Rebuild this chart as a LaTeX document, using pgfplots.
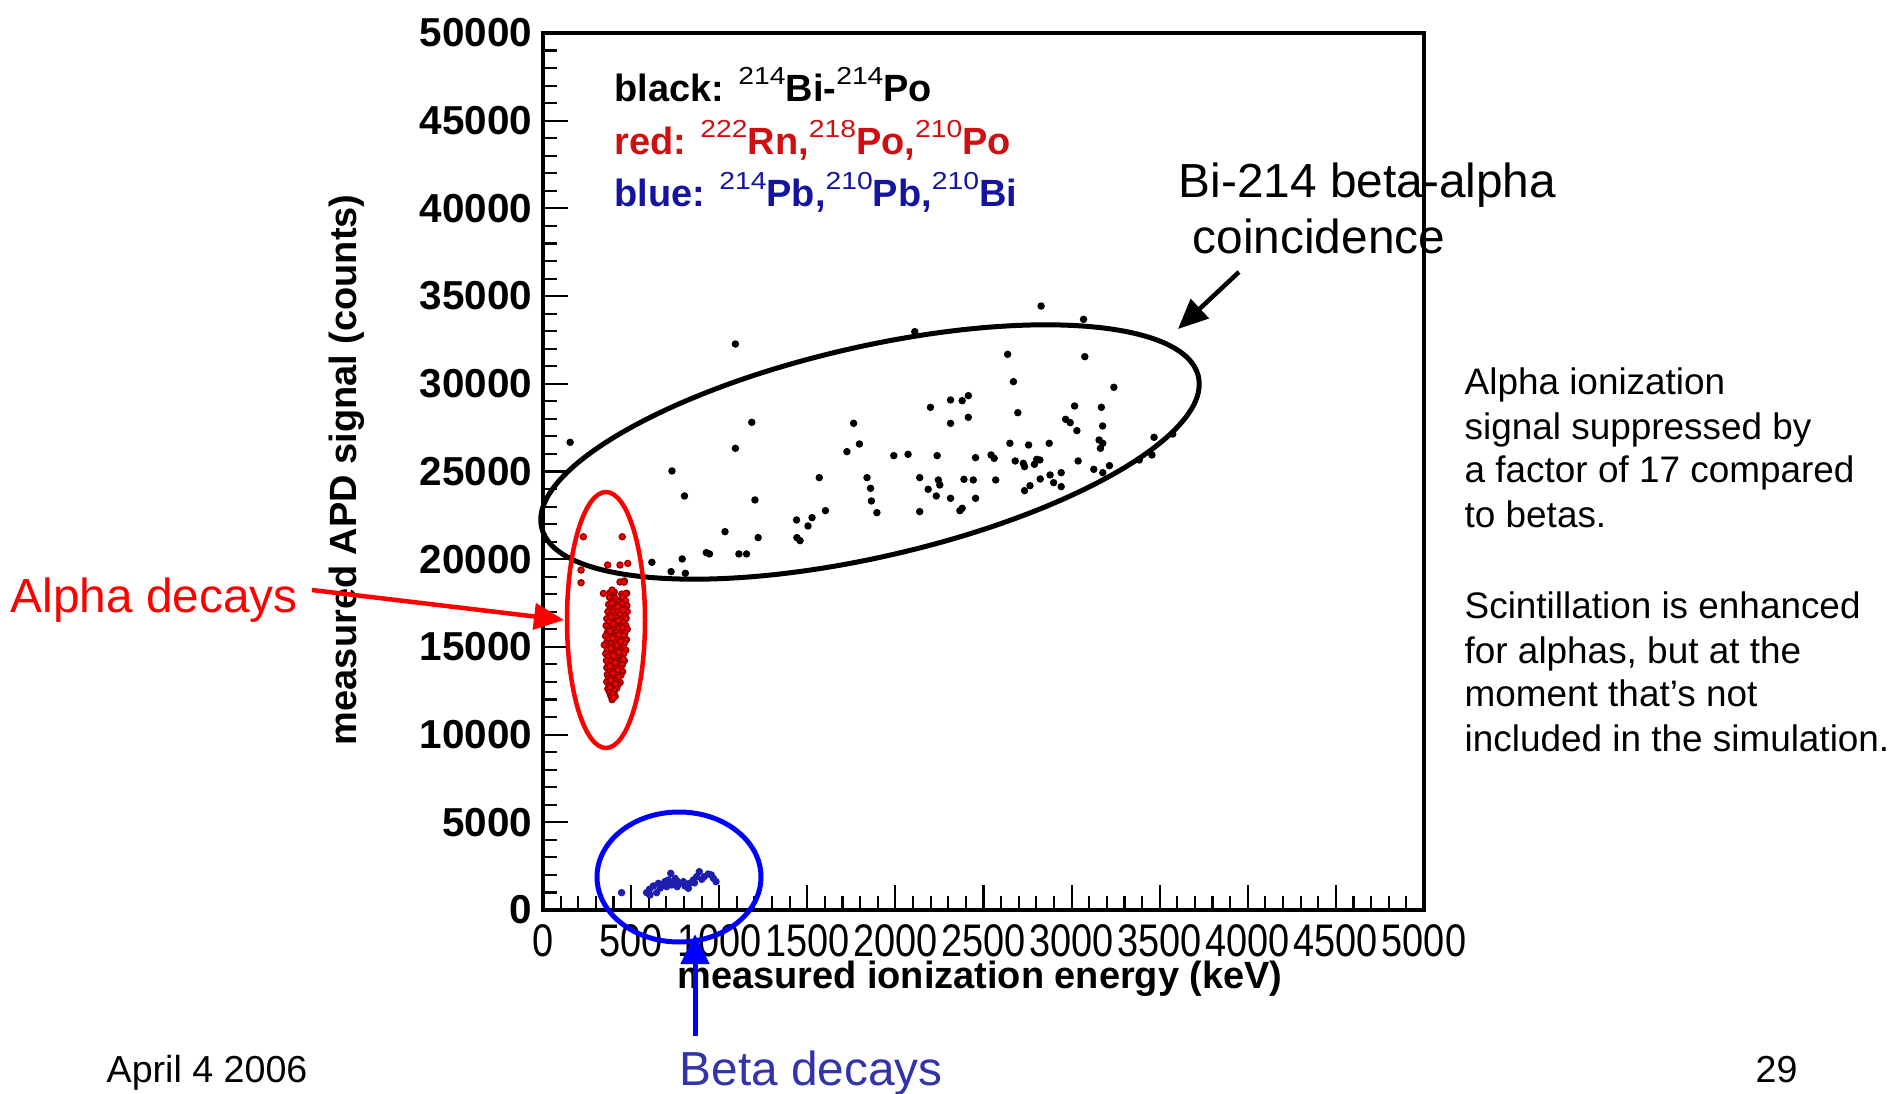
\documentclass[border=0pt]{standalone}
\usepackage{pgfplots}
\pgfplotsset{compat=1.18}
\usepackage{fontspec}
\setmainfont{Liberation Sans}
\newfontfamily\condfont[FakeStretch=0.83]{Liberation Sans}
\newfontfamily\supfont[FakeStretch=1.15]{Liberation Sans}
\usetikzlibrary{arrows.meta}
\definecolor{legred}{RGB}{208,16,16}
\definecolor{legblue}{RGB}{20,20,160}
\definecolor{betablue}{RGB}{51,51,170}
\definecolor{ptblue}{RGB}{30,30,175}
\newcommand\fs[2]{\fontsize{#1}{#2}\selectfont}
\newcommand\sups[1]{\raisebox{5pt}{\supfont\mdseries\fs{7}{7}#1}}
\begin{document}
\begin{tikzpicture}
\path[use as bounding box] (0,0) rectangle (189.5mm,109.3mm);
\begin{axis}[
  at={(54.3mm,18.3mm)}, anchor=south west,
  scale only axis, width=88.1mm, height=87.7mm,
  xmin=0, xmax=5000, ymin=0, ymax=50000,
  scaled ticks=false,
  xtick={0,500,...,5000},
  xticklabels={0,500,1000,1500,2000,2500,3000,3500,4000,4500,5000},
  ytick={0,5000,...,50000},
  yticklabels={0,5000,10000,15000,20000,25000,30000,35000,40000,45000,50000},
  minor x tick num=4, minor y tick num=4,
  tick align=inside, xtick pos=left, ytick pos=left,
  major tick length=2.5mm, minor tick length=1.4mm,
  axis line style={line width=1pt},
  every tick/.style={black, line width=0.6pt},
  xticklabel style={font=\condfont\fs{13}{14}, inner sep=0pt, yshift=-1.4mm},
  yticklabel style={font=\bfseries\fs{11.5}{12}, inner sep=0pt, xshift=-1mm},
  xlabel={measured ionization energy (keV)},
  ylabel={measured APD signal (counts)},
  xlabel style={at={(axis description cs:0.496,-0.0787)}, anchor=center, font=\bfseries\fs{10.8}{13}},
  ylabel style={at={(axis description cs:-0.2225,0.502)}, anchor=center, font=\bfseries\fs{10.8}{13}},
]
% red: alpha decays
\addplot[only marks, mark=*, mark size=0.85pt, mark options={fill=red, draw=red!60!black}] coordinates {
(229,21280) (450,21280) (216,19380) (216,18660) (367,19670) (437,19670) (481,19760) (343,18050) (380,18080) (405,18120) (447,18010) (475,18060) (437,18700) (462,18760) (392,18240) (460,18690) (471,18040)
(378,17820) (410,17770) (452,17850)
(395,17610) (432,17580) (468,17640)
(372,17420) (418,17380) (447,17450) (476,17360)
(385,17220) (405,17170) (440,17240) (462,17190)
(368,17010) (398,16980) (425,17040) (455,16960) (479,17020)
(380,16820) (412,16790) (438,16840) (466,16770)
(362,16610) (392,16580) (420,16640) (448,16590) (472,16620)
(375,16420) (405,16380) (430,16440) (458,16390)
(358,16210) (388,16180) (415,16240) (442,16170) (470,16220)
(372,16010) (400,15980) (428,16040) (452,15970) (478,16010)
(365,15820) (392,15780) (418,15840) (445,15790) (465,15810)
(355,15610) (382,15580) (410,15640) (436,15590) (460,15620)
(370,15420) (398,15380) (422,15440) (450,15390) (474,15410)
(360,15220) (385,15180) (412,15240) (440,15170) (462,15210)
(348,15110) (375,15000) (402,14980) (428,15040) (455,14970)
(365,14820) (392,14780) (418,14840) (445,14790) (470,14810)
(356,14610) (380,14580) (408,14640) (432,14590) (458,14620)
(370,14420) (395,14380) (420,14440) (448,14390)
(360,14220) (385,14180) (412,14240) (438,14170) (462,14210)
(372,14010) (398,13980) (425,14040) (450,13970)
(362,13820) (388,13780) (412,13840) (440,13790)
(375,13610) (400,13580) (428,13640) (452,13590)
(365,13420) (390,13380) (415,13440) (442,13390)
(372,13210) (398,13180) (425,13240)
(362,13010) (388,12980) (412,13040) (438,12970)
(375,12810) (400,12780) (425,12840)
(368,12610) (392,12580) (418,12640)
(378,12410) (402,12380)
(385,12210) (410,12180)
(392,11990)
(390,17500) (425,17300) (455,17100) (385,16700) (428,16500) (400,16300) (452,16100) (380,15900) (430,15700) (395,15500) (440,15300) (420,15100) (385,14900) (430,14700) (400,14500) (455,14300) (410,14100) (380,13900) (425,13700) (395,13500) (430,13300) (385,13100) (410,12900) (380,12700) (405,12500) (395,12300) (400,12100)
};
% black: Bi-Po
\addplot[only marks, mark=*, mark size=0.85pt, black] coordinates {
(2827,34435) (3068,33675) (2110,32972) (1092,32269) (2637,31680) (3075,31547) (2670,30122) (3240,29799)
(2414,29324) (2313,29077) (2379,29039) (2199,28659) (3017,28735) (3169,28659) (2695,28355) (2414,28089)
(2313,27747) (1185,27804) (1763,27747) (2966,27975) (2992,27785) (3030,27329) (3176,27595) (154,26664)
(1092,26322) (3156,26797) (3177,26607) (3164,26322) (3468,26949) (3574,27139) (1796,26569) (1725,26132)
(2650,26607) (2756,26512) (2873,26607) (1991,25904) (2072,25980) (2237,25904) (2455,25790) (2543,25942)
(2561,25752) (2680,25600) (2726,25467) (2733,25277) (2789,25410) (2802,25695) (2820,25657) (3037,25600)
(3126,25125) (3177,24935) (3215,25334) (3456,25942) (3384,25657) (732,25030) (1568,24650) (1839,24650)
(1859,24042) (1864,23320) (1895,22655) (2138,24650) (2244,24517) (2186,23985) (2252,24232) (2389,24555)
(2442,24517) (2569,24517) (2822,24574) (2878,24802) (2941,24935) (2898,24365) (2941,24137) (2764,24194)
(2733,23909) (2232,23605) (2313,23472) (2455,23472) (2138,22712) (2366,22769) (2379,22902) (803,23605)
(1203,23377) (1603,22769) (1439,22237) (1527,22370) (1504,21895) (1441,21230) (1459,21059) (1033,21572)
(1221,21230) (927,20375) (945,20299) (1112,20299) (1155,20299) (790,20014) (618,19824) (727,19292) (808,19197)
};
% blue: beta decays
\addplot[only marks, mark=*, mark size=0.85pt, ptblue] coordinates {
(446,989) (588,989) (604,1179) (626,1369) (655,1521) (674,1369) (692,1616) (711,1711) (725,2091) (740,1559)
(759,1673) (778,1521) (806,1369) (825,1236) (797,1616) (853,1711) (872,1901) (887,2186) (901,1749) (938,2053)
(967,1805) (982,1616) (645,989) (665,1250) (702,1331) (730,1426) (762,1331) (607,856) (831,1521) (690,1450)
(750,1800) (860,1550) (915,1900) (955,2000)
};
\end{axis}
% in-plot legend text
\node[anchor=base west, inner sep=0pt, font=\bfseries\fs{10.8}{13}] at (61.4mm,99.1mm) {black: \sups{214}Bi-\sups{214}Po};
\node[anchor=base west, inner sep=0pt, font=\bfseries\fs{10.8}{13}, text=legred] at (61.4mm,93.8mm) {red: \sups{222}Rn,\sups{218}Po,\sups{210}Po};
\node[anchor=base west, inner sep=0pt, font=\bfseries\fs{10.8}{13}, text=legblue] at (61.4mm,88.6mm) {blue: \sups{214}Pb,\sups{210}Pb,\sups{210}Bi};
% ellipses
\draw[line width=0.5mm, rotate around={12.95:(87mm,64.1mm)}] (87mm,64.1mm) ellipse [x radius=33.7mm, y radius=10.5mm];
\draw[red, line width=0.45mm] (60.6mm,47.3mm) ellipse [x radius=3.9mm, y radius=12.8mm];
\draw[blue, line width=0.5mm] (67.9mm,21.6mm) ellipse [x radius=8.2mm, y radius=6.5mm];
% arrows
\draw[line width=0.45mm, -{Triangle[length=3mm,width=2.6mm]}] (123.9mm,82.1mm) -- (117.8mm,76.4mm);
\draw[red, line width=0.45mm, -{Triangle[length=3mm,width=2.6mm]}] (31.2mm,50.3mm) -- (56.4mm,47.3mm);
\draw[blue, line width=0.5mm, -{Triangle[length=3mm,width=2.8mm]}] (69.5mm,5.7mm) -- (69.5mm,15.9mm);
% annotations
\node[anchor=base west, inner sep=0pt, font=\fs{13.6}{16}] at (117.8mm,89.5mm) {Bi-214 beta-alpha};
\node[anchor=base west, inner sep=0pt, font=\fs{13.6}{16}] at (119.2mm,83.9mm) {coincidence};
\node[anchor=base west, inner sep=0pt, font=\fs{13.6}{16}, text=red] at (1.0mm,48.0mm) {Alpha decays};
\node[anchor=base west, inner sep=0pt, font=\fs{13.6}{16}, text=betablue] at (67.9mm,0.8mm) {Beta decays};
\node[anchor=base west, inner sep=0pt, font=\fs{10.7}{12}] at (10.6mm,1.1mm) {April 4 2006};
\node[anchor=base west, inner sep=0pt, font=\fs{10.7}{12}] at (175.5mm,1.1mm) {29};
\begin{scope}[every node/.style={anchor=base west, inner sep=0pt, font=\fs{10.5}{12.66}}]
\node at (146.4mm,69.8mm) {Alpha ionization};
\node at (146.4mm,65.3mm) {signal suppressed by};
\node at (146.4mm,61.0mm) {a factor of 17 compared};
\node at (146.4mm,56.5mm) {to betas.};
\node at (146.4mm,47.5mm) {Scintillation is enhanced};
\node at (146.4mm,43.0mm) {for alphas, but at the};
\node at (146.4mm,38.6mm) {moment that’s not};
\node at (146.4mm,34.2mm) {included in the simulation.};
\end{scope}
\end{tikzpicture}
\end{document}
